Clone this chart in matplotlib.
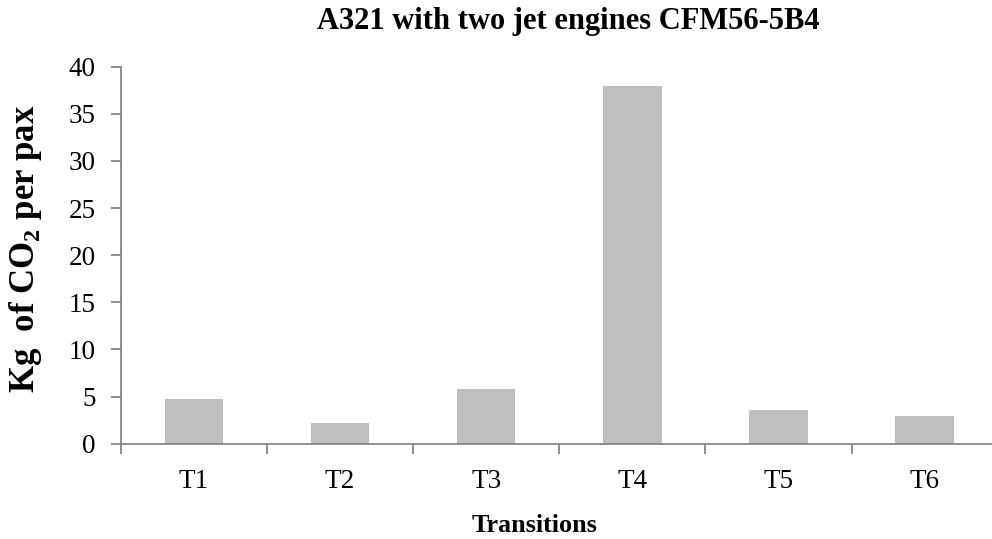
import matplotlib.pyplot as plt

plt.rcParams['font.family'] = ['Liberation Serif', 'DejaVu Serif']
plt.rcParams['mathtext.fontset'] = 'custom'
plt.rcParams['mathtext.rm'] = 'Liberation Serif'
plt.rcParams['mathtext.bf'] = 'Liberation Serif:bold'

#-- Data -----------------------------------------------------
transitions = ['T1', 'T2', 'T3', 'T4', 'T5', 'T6']
co2_per_pax = [4.7, 2.2, 5.85, 38.0, 3.55, 2.9]
y_ticks = [0, 5, 10, 15, 20, 25, 30, 35, 40]

#-- Plot -----------------------------------------------------
W, H = 992, 539
fig = plt.figure(figsize=(W / 100, H / 100), dpi=100)
ax = fig.add_axes([120.7 / W, 1 - 443.7 / H, 877 / W, 377 / H])

pos = list(range(len(transitions)))
ax.bar(pos, co2_per_pax, width=0.4, color='#bfbfbf', zorder=2)

axis_col = '#868686'
ax.set_xlim(-0.5, 5.5)
ax.set_ylim(0, 40)
ax.set_yticks(y_ticks)
ax.set_xticks(pos)
ax.set_xticklabels(transitions)
ax.set_xticks([p - 0.5 for p in pos] + [5.5], minor=True)

for s in ['top', 'right']:
    ax.spines[s].set_visible(False)
for s in ['left', 'bottom']:
    ax.spines[s].set_color(axis_col)
    ax.spines[s].set_linewidth(1.3)

ax.tick_params(axis='y', length=7, width=1.3, color=axis_col, labelsize=19.5, pad=11)
ax.tick_params(axis='x', which='major', length=0, labelsize=19.5, pad=18)
ax.tick_params(axis='x', which='minor', length=7, width=1.3, color=axis_col)

fig.text(568 / W, 1 - 22 / H, 'A321 with two jet engines CFM56-5B4',
         ha='center', va='center', fontsize=22, fontweight='bold')
fig.text(535 / W, 1 - 525 / H, 'Transitions',
         ha='center', va='center', fontsize=18.8, fontweight='bold')
fig.text(26 / W, 1 - 249 / H, r'Kg  of CO$_\mathbf{2}$ per pax',
         ha='center', va='center', rotation=90, fontsize=25, fontweight='bold')

fig.savefig('out.png', dpi=100)
